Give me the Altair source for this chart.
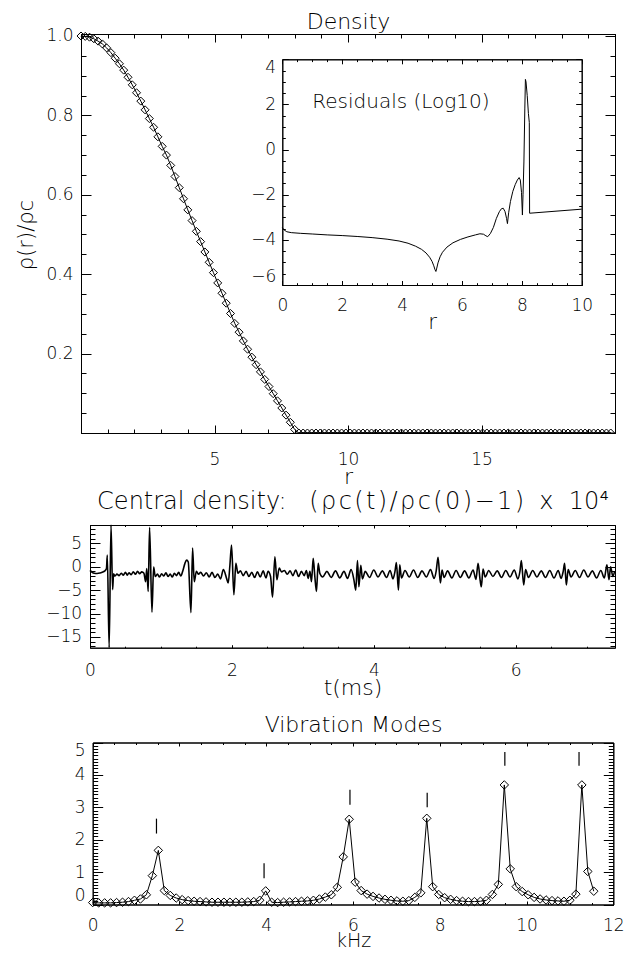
import altair as alt
import pandas as pd

# ---------------- data ----------------
# Top panel: density profile rho(r)/rho_c sampled on r
r_grid = [
    0.00, 0.16, 0.32, 0.48, 0.64, 0.80, 0.96, 1.12, 1.28, 1.44,
    1.60, 1.76, 1.92, 2.08, 2.24, 2.40, 2.56, 2.72, 2.88, 3.04,
    3.20, 3.36, 3.52, 3.68, 3.84, 4.00, 4.16, 4.32, 4.48, 4.64,
    4.80, 4.96, 5.12, 5.28, 5.44, 5.60, 5.76, 5.92, 6.08, 6.24,
    6.40, 6.56, 6.72, 6.88, 7.04, 7.20, 7.36, 7.52, 7.68, 7.84,
    8.00, 8.16, 8.32, 8.48, 8.64, 8.80, 8.96, 9.12, 9.28, 9.44,
    9.60, 9.76, 9.92, 10.08, 10.24, 10.40, 10.56, 10.72, 10.88, 11.04,
    11.20, 11.36, 11.52, 11.68, 11.84, 12.00, 12.16, 12.32, 12.48, 12.64,
    12.80, 12.96, 13.12, 13.28, 13.44, 13.60, 13.76, 13.92, 14.08, 14.24,
    14.40, 14.56, 14.72, 14.88, 15.04, 15.20, 15.36, 15.52, 15.68, 15.84,
    16.00, 16.16, 16.32, 16.48, 16.64, 16.80, 16.96, 17.12, 17.28, 17.44,
    17.60, 17.76, 17.92, 18.08, 18.24, 18.40, 18.56, 18.72, 18.88, 19.04,
    19.20, 19.36, 19.52, 19.68, 19.84,
]
rho = [
    1.000, 0.999, 0.997, 0.993, 0.987, 0.980, 0.970, 0.958, 0.944, 0.930,
    0.914, 0.896, 0.877, 0.857, 0.836, 0.814, 0.792, 0.770, 0.746, 0.722,
    0.700, 0.674, 0.646, 0.618, 0.590, 0.562, 0.535, 0.508, 0.482, 0.456,
    0.430, 0.404, 0.378, 0.352, 0.327, 0.301, 0.276, 0.254, 0.232, 0.211,
    0.191, 0.172, 0.154, 0.135, 0.117, 0.099, 0.081, 0.063, 0.045, 0.027,
    0.009, 0.0, 0.0, 0.0, 0.0, 0.0, 0.0, 0.0, 0.0, 0.0,
    0.0, 0.0, 0.0, 0.0, 0.0, 0.0, 0.0, 0.0, 0.0, 0.0,
    0.0, 0.0, 0.0, 0.0, 0.0, 0.0, 0.0, 0.0, 0.0, 0.0,
    0.0, 0.0, 0.0, 0.0, 0.0, 0.0, 0.0, 0.0, 0.0, 0.0,
    0.0, 0.0, 0.0, 0.0, 0.0, 0.0, 0.0, 0.0, 0.0, 0.0,
    0.0, 0.0, 0.0, 0.0, 0.0, 0.0, 0.0, 0.0, 0.0, 0.0,
    0.0, 0.0, 0.0, 0.0, 0.0, 0.0, 0.0, 0.0, 0.0, 0.0,
    0.0, 0.0, 0.0, 0.0, 0.0,
]

# Inset: log10 residuals vs r
res_r = [
    0.0, 0.05, 0.15, 0.3, 0.6, 1.0, 1.5, 2.0, 2.5, 3.0,
    3.5, 3.9, 4.2, 4.45, 4.65, 4.8, 4.92, 5.0, 5.06, 5.1,
    5.13, 5.16, 5.2, 5.27, 5.35, 5.5, 5.7, 5.95, 6.2, 6.45,
    6.6, 6.72, 6.8, 6.86, 6.95, 7.05, 7.15, 7.25, 7.32, 7.38,
    7.44, 7.49, 7.52, 7.56, 7.62, 7.7, 7.78, 7.85, 7.91, 7.95,
    7.99, 8.02, 8.04, 8.07, 8.1, 8.12, 8.14, 8.18, 8.22, 8.25,
    8.26, 10.0,
]
res_log = [
    -3.45, -3.55, -3.64, -3.68, -3.71, -3.74, -3.78, -3.81, -3.85, -3.90,
    -3.97, -4.05, -4.15, -4.28, -4.42, -4.58, -4.77, -4.95, -5.15, -5.32,
    -5.40, -5.25, -5.02, -4.75, -4.55, -4.32, -4.13, -3.98, -3.87, -3.78,
    -3.73, -3.75, -3.82, -3.86, -3.72, -3.45, -3.05, -2.75, -2.62, -2.60,
    -2.75, -3.05, -3.28, -2.80, -2.30, -1.85, -1.55, -1.35, -1.24, -1.35,
    -1.90, -2.90, -2.00, -0.55, 1.80, 3.11, 3.00, 2.40, 1.60, 1.20,
    -2.82, -2.64,
]
note_text = ["Residuals (Log10)"]
note_r = [1.0]
note_y = [1.83]

# Middle panel: central density perturbation (x 1e4) vs time (ms)
t_ms = [
    0.000, 0.030, 0.060, 0.100, 0.140, 0.180, 0.215, 0.232, 0.244, 0.270,
    0.296, 0.319, 0.332, 0.350, 0.380, 0.410, 0.440, 0.470, 0.500, 0.525,
    0.550, 0.580, 0.610, 0.640, 0.670, 0.700, 0.730, 0.760, 0.784, 0.800,
    0.820, 0.840, 0.873, 0.897, 0.920, 0.950, 0.980, 1.010, 1.040, 1.070,
    1.100, 1.130, 1.160, 1.190, 1.220, 1.250, 1.280, 1.310, 1.338, 1.362,
    1.385, 1.423, 1.446, 1.469, 1.500, 1.530, 1.560, 1.600, 1.640, 1.680,
    1.720, 1.760, 1.800, 1.840, 1.880, 1.925, 1.948, 1.972, 1.995, 2.028,
    2.056, 2.085, 2.120, 2.160, 2.200, 2.240, 2.280, 2.320, 2.360, 2.400,
    2.440, 2.480, 2.510, 2.545, 2.573, 2.606, 2.634, 2.667, 2.700, 2.740,
    2.780, 2.820, 2.860, 2.900, 2.940, 2.980, 3.020, 3.050, 3.075, 3.100,
    3.122, 3.146, 3.169, 3.192, 3.216, 3.239, 3.280, 3.340, 3.400, 3.460,
    3.520, 3.580, 3.630, 3.680, 3.720, 3.746, 3.770, 3.790, 3.817, 3.840,
    3.880, 3.940, 4.000, 4.060, 4.120, 4.180, 4.230, 4.270, 4.300, 4.319,
    4.347, 4.366, 4.390, 4.440, 4.500, 4.560, 4.620, 4.680, 4.740, 4.800,
    4.850, 4.880, 4.906, 4.939, 4.962, 4.990, 5.040, 5.100, 5.160, 5.220,
    5.280, 5.340, 5.400, 5.440, 5.470, 5.500, 5.516, 5.540, 5.570, 5.620,
    5.680, 5.740, 5.800, 5.860, 5.920, 5.980, 6.030, 6.060, 6.080, 6.113,
    6.140, 6.180, 6.240, 6.300, 6.360, 6.420, 6.480, 6.540, 6.600, 6.640,
    6.670, 6.690, 6.714, 6.740, 6.780, 6.840, 6.900, 6.960, 7.020, 7.080,
    7.140, 7.200, 7.250, 7.286, 7.315, 7.338, 7.370, 7.394,
]
dc = [
    -0.8, -1.2, -1.4, -1.45, -1.35, -1.15, -0.8, -0.4, 2.5, -18.5,
    9.5, -4.9, -1.5, -2.0, -1.6, -1.9, -1.4, -1.8, -1.2, -1.8,
    -1.3, -1.7, -1.1, -1.6, -1.0, -1.5, -1.1, -1.4, -3.2, -0.4,
    -5.3, 8.4, -9.7, -0.1, -2.1, -1.6, -2.2, -1.5, -2.0, -1.3,
    -2.1, -1.6, -2.2, -1.4, -1.9, -1.2, -2.0, -0.8, 0.7, 1.4,
    1.0, -9.8, 4.0, -3.2, -1.0, -1.6, -1.2, -2.0, -1.3, -2.2,
    -1.2, -2.3, -1.6, -2.6, -0.6, -2.5, -3.5, 0.3, 4.6, -6.0,
    0.7, -1.4, -0.9, -1.9, -1.0, -2.1, -1.2, -2.3, -1.1, -2.2,
    -0.9, -2.4, -1.0, -2.1, -6.5, 2.1, -2.8, -0.3, -1.1, -0.8,
    -1.6, -0.9, -1.9, -0.7, -2.1, -1.0, -1.9, -0.8, -2.5, -1.0,
    -3.2, 1.8, -2.1, -5.3, 0.7, -1.4, -2.2, -1.0, -2.3, -0.9,
    -2.4, -1.0, -2.5, -0.6, -2.8, -5.0, 1.3, -4.3, 0.3, -2.6,
    -1.0, -2.3, -0.7, -2.2, -0.9, -2.3, -0.8, -2.6, -0.9, 0.9,
    -5.0, 0.4, -2.4, -0.8, -2.2, -0.7, -2.3, -0.9, -2.2, -0.6,
    -2.5, -0.9, 2.0, -3.5, -0.7, -2.3, -0.9, -2.4, -0.8, -2.3,
    -0.9, -2.4, -0.7, -2.7, 0.7, -3.0, -4.3, -0.5, -2.2, -0.8,
    -2.1, -0.9, -2.3, -0.8, -2.2, -0.7, -2.6, -1.0, 1.3, -3.9,
    -0.6, -2.3, -0.8, -2.2, -0.9, -2.3, -0.8, -2.4, -0.8, -2.5,
    -1.0, 0.7, -3.9, -0.6, -2.2, -0.8, -2.3, -0.7, -2.2, -0.9,
    -2.4, -0.8, -2.4, 0.4, -2.8, 0.0, -2.1, -1.0,
]

# Bottom panel: spectrum amplitude vs frequency (kHz)
khz = [
    0.0, 0.1375, 0.275, 0.4125, 0.55, 0.6875, 0.825, 0.9625, 1.1, 1.2375,
    1.375, 1.5125, 1.65, 1.7875, 1.925, 2.0625, 2.2, 2.3375, 2.475, 2.6125,
    2.75, 2.8875, 3.025, 3.1625, 3.3, 3.4375, 3.575, 3.7125, 3.85, 3.9875,
    4.125, 4.2625, 4.4, 4.5375, 4.675, 4.8125, 4.95, 5.0875, 5.225, 5.3625,
    5.5, 5.6375, 5.775, 5.9125, 6.05, 6.1875, 6.325, 6.4625, 6.6, 6.7375,
    6.875, 7.0125, 7.15, 7.2875, 7.425, 7.5625, 7.7, 7.8375, 7.975, 8.1125,
    8.25, 8.3875, 8.525, 8.6625, 8.8, 8.9375, 9.075, 9.2125, 9.35, 9.4875,
    9.625, 9.7625, 9.9, 10.0375, 10.175, 10.3125, 10.45, 10.5875, 10.725, 10.8625,
    11.0, 11.1375, 11.275, 11.4125, 11.55,
]
amp = [
    0.06, 0.05, 0.05, 0.05, 0.06, 0.07, 0.09, 0.13, 0.17, 0.30,
    0.89, 1.67, 0.43, 0.28, 0.20, 0.15, 0.12, 0.10, 0.09, 0.08,
    0.07, 0.07, 0.07, 0.07, 0.07, 0.07, 0.08, 0.09, 0.13, 0.42,
    0.07, 0.06, 0.07, 0.08, 0.09, 0.10, 0.11, 0.13, 0.17, 0.23,
    0.30, 0.53, 1.47, 2.63, 0.69, 0.43, 0.32, 0.25, 0.20, 0.16,
    0.13, 0.11, 0.10, 0.12, 0.22, 0.36, 2.66, 0.55, 0.31, 0.21,
    0.16, 0.12, 0.10, 0.09, 0.09, 0.10, 0.13, 0.31, 0.62, 3.69,
    1.10, 0.55, 0.40, 0.30, 0.22, 0.17, 0.14, 0.12, 0.11, 0.10,
    0.13, 0.32, 3.69, 1.02, 0.41,
]
mode_khz = [1.47, 3.95, 5.93, 7.71, 9.50, 11.21]
mode_lo = [2.19, 0.81, 3.08, 3.00, 4.28, 4.28]
mode_hi = [2.65, 1.27, 3.54, 3.45, 4.71, 4.71]

# ---------------- tick values ----------------
top_x_major = [5, 10, 15]
top_y_major = [0.2, 0.4, 0.6, 0.8, 1.0]
top_x_minor = [float(i) for i in range(0, 21)]
top_y_minor = [round(i * 0.05, 2) for i in range(0, 21)]
in_x_major = [0, 2, 4, 6, 8, 10]
in_y_major = [-6, -4, -2, 0, 2, 4]
in_x_minor = [round(i * 0.5, 1) for i in range(0, 21)]
in_y_minor = [round(-6 + i * 0.5, 1) for i in range(0, 21)]
mid_x_major = [0, 2, 4, 6]
mid_y_major = [-15, -10, -5, 0, 5]
mid_x_minor = [round(i * 0.5, 1) for i in range(0, 15)]
mid_y_minor = [float(i) for i in range(-17, 9)]
bot_x_major = [0, 2, 4, 6, 8, 10, 12]
bot_y_major = [0, 1, 2, 3, 4, 5]
bot_x_minor = [round(i * 0.5, 1) for i in range(0, 25)]
bot_y_minor = [round(i * 0.1, 1) for i in range(0, 51)]

# ---------------- layout / style ----------------
W, H = 627, 944
FONT = "DejaVu Sans"
FW = 200
LSIZE = 17
TSIZE = 22
HALF_DIAMOND = "M-1,0L0,-1L1,0Z"
HS = "\u200a"   # hair space
NB = "\u00a0"   # non-breaking space
MID_TITLE = ("Central density:" + NB * 3 + "(" + HS + "ρ" + HS + "c" + HS + "(" + HS + "t"
             + HS + ")" + HS + "/" + HS + "ρ" + HS + "c" + HS + "(" + HS + "0" + HS + ")"
             + HS + "−" + HS + "1" + HS + ")" + NB * 2 + "x" + NB * 2 + "10⁴")


def axis(orient, offset, values, tick, labels=False, pad=0.0, fmt=None,
         flush=False, title=None, tx=None, ty=None, tsize=TSIZE):
    kw = dict(orient=orient, offset=offset, values=values, grid=False,
              ticks=True, tickSize={"expr": str(-tick)}, tickColor="black",
              tickWidth=1, domain=True, domainColor="black", domainWidth=1,
              labels=labels, labelOverlap=False, labelFlush=flush,
              labelBound=False, labelFont=FONT, labelFontSize=LSIZE,
              labelFontWeight=FW, labelColor="black",
              labelPadding=pad + tick)
    if fmt is not None:
        kw["format"] = fmt
    if title is not None:
        kw.update(title=title, titleFont=FONT, titleFontSize=tsize,
                  titleFontWeight=FW, titleColor="black",
                  titleBaseline="alphabetic")
        if tx is not None:
            kw["titleX"] = tx
        if ty is not None:
            kw["titleY"] = ty
    else:
        kw["title"] = None
    return alt.Axis(**kw)


def sc(domain, rng, clamp=False):
    if clamp:
        return alt.Scale(domain=domain, range=rng, nice=False, zero=False, clamp=True)
    return alt.Scale(domain=domain, range=rng, nice=False, zero=False)


# ---------- top panel: density ----------
TX0, TX1, TYB, TYT = 73, 607, 425, 26
xs_top = sc([0, 20], [TX0, TX1])
ys_top = sc([0, 1.005], [TYB, TYT])
dens = alt.Chart(pd.DataFrame({"r": r_grid, "rho": rho}))


def XT(ax):
    return alt.X("r:Q", scale=xs_top, axis=ax)


def YT(ax):
    return alt.Y("rho:Q", scale=ys_top, axis=ax)


top_line = dens.mark_line(color="black", strokeWidth=1).encode(
    x=XT(axis("bottom", TYB - H, top_x_major, 8, labels=True, pad=18,
              title="r", ty=50)),
    y=YT(axis("left", -TX0, top_y_major, 10, labels=True, pad=8, fmt=".1f",
              title="ρ(r)/ρc", tx=-49, ty=226.5, tsize=21)),
)
top_pts = dens.transform_filter("datum.rho > 0").mark_point(
    shape="diamond", filled=False, color="black", size=64, strokeWidth=1, opacity=1
).encode(
    x=XT(axis("top", -TYT, top_x_major, 8, title="Density", ty=-6)),
    y=YT(axis("right", TX1 - W, top_y_major, 10)),
)
top_pts0 = dens.transform_filter("datum.rho <= 0").mark_point(
    shape=HALF_DIAMOND, filled=False, color="black", size=64, strokeWidth=1, opacity=1
).encode(
    x=XT(axis("bottom", TYB - H, top_x_minor, 4)),
    y=YT(axis("left", -TX0, top_y_minor, 5)),
)
top_ghost = dens.mark_line(opacity=0).encode(
    x=XT(axis("top", -TYT, top_x_minor, 4)),
    y=YT(axis("right", TX1 - W, top_y_minor, 5)),
)
top = alt.layer(top_line, top_pts, top_pts0, top_ghost).resolve_axis(
    x="independent", y="independent")

# ---------- inset: residuals ----------
IX0, IX1, IYB, IYT = 274.3, 573.7, 277, 51.3
xs_in = sc([0, 10], [IX0, IX1])
ys_in = sc([-6, 4], [IYB, IYT])
resid = alt.Chart(pd.DataFrame({"ri": res_r, "res": res_log}))


def XI(ax):
    return alt.X("ri:Q", scale=xs_in, axis=ax)


def YI(ax):
    return alt.Y("res:Q", scale=ys_in, axis=ax)


in_line = resid.mark_line(color="black", strokeWidth=1).encode(
    x=XI(axis("bottom", IYB - H, in_x_major, 4.5, labels=True, pad=12,
              title="r", ty=43, tsize=21)),
    y=YI(axis("left", -IX0, in_y_major, 6, labels=True, pad=6.6, flush=True)),
)
in_g1 = resid.mark_line(opacity=0).encode(
    x=XI(axis("top", -IYT, in_x_major, 4.5)),
    y=YI(axis("right", IX1 - W, in_y_major, 6)),
)
in_g2 = resid.mark_line(opacity=0).encode(
    x=XI(axis("bottom", IYB - H, in_x_minor, 2.3)),
    y=YI(axis("left", -IX0, in_y_minor, 3)),
)
in_g3 = resid.mark_line(opacity=0).encode(
    x=XI(axis("top", -IYT, in_x_minor, 2.3)),
    y=YI(axis("right", IX1 - W, in_y_minor, 3)),
)
in_note = alt.Chart(pd.DataFrame({"nr": note_r, "ny": note_y, "txt": note_text})).mark_text(
    align="left", baseline="alphabetic", font=FONT, fontSize=20, fontWeight=FW, color="black"
).encode(
    x=alt.X("nr:Q", scale=xs_in, axis=None),
    y=alt.Y("ny:Q", scale=ys_in, axis=None),
    text="txt:N",
)
inset = alt.layer(in_line, in_g1, in_g2, in_g3, in_note).resolve_axis(
    x="independent", y="independent")

# ---------- middle panel: central density ----------
MX0, MX1, MYB, MYT = 82, 607, 639.7, 517
xs_mid = sc([0, 7.4], [MX0, MX1])
ys_mid = sc([-17.3, 8.9], [MYB, MYT], clamp=True)
cen = alt.Chart(pd.DataFrame({"t": t_ms, "dc": dc}))


def XM(ax):
    return alt.X("t:Q", scale=xs_mid, axis=ax)


def YM(ax):
    return alt.Y("dc:Q", scale=ys_mid, axis=ax)


mid_line = cen.mark_line(color="black", strokeWidth=1.6, interpolate="monotone").encode(
    x=XM(axis("bottom", MYB - H, mid_x_major, 3, labels=True, pad=14.5,
              title="t(ms)", ty=47)),
    y=YM(axis("left", -MX0, mid_y_major, 10, labels=True, pad=8.3)),
)
mid_g1 = cen.mark_line(opacity=0).encode(
    x=XM(axis("top", -MYT, mid_x_major, 3, title=MID_TITLE, ty=-16.7, tsize=24)),
    y=YM(axis("right", MX1 - W, mid_y_major, 10)),
)
mid_g2 = cen.mark_line(opacity=0).encode(
    x=XM(axis("bottom", MYB - H, mid_x_minor, 1.5)),
    y=YM(axis("left", -MX0, mid_y_minor, 5)),
)
mid_g3 = cen.mark_line(opacity=0).encode(
    x=XM(axis("top", -MYT, mid_x_minor, 1.5)),
    y=YM(axis("right", MX1 - W, mid_y_minor, 5)),
)
mid = alt.layer(mid_line, mid_g1, mid_g2, mid_g3).resolve_axis(
    x="independent", y="independent")

# ---------- bottom panel: vibration modes ----------
BX0, BX1, BYB, BYT = 84.7, 605.3, 896.5, 734.5
xs_bot = sc([0, 12], [BX0, BX1])
ys_bot = sc([0, 5], [BYB, BYT])
spec = alt.Chart(pd.DataFrame({"f": khz, "a": amp}))


def XB(ax):
    return alt.X("f:Q", scale=xs_bot, axis=ax)


def YB(ax):
    return alt.Y("a:Q", scale=ys_bot, axis=ax)


bot_line = spec.mark_line(color="black", strokeWidth=1).encode(
    x=XB(axis("bottom", BYB - H, bot_x_major, 3.5, labels=True, pad=13,
              title="kHz", ty=41.5, tsize=19)),
    y=YB(axis("left", -BX0, bot_y_major, 10, labels=True, pad=7.7, flush=True)),
)
bot_pts = spec.mark_point(
    shape="diamond", filled=False, color="black", size=72, strokeWidth=1, opacity=1
).encode(
    x=XB(axis("top", -BYT, bot_x_major, 3.5, title="Vibration Modes", ty=-11.5)),
    y=YB(axis("right", BX1 - W, bot_y_major, 10)),
)
bot_g2 = spec.mark_line(opacity=0).encode(
    x=XB(axis("bottom", BYB - H, bot_x_minor, 2)),
    y=YB(axis("left", -BX0, bot_y_minor, 5)),
)
bot_g3 = spec.mark_line(opacity=0).encode(
    x=XB(axis("top", -BYT, bot_x_minor, 2)),
    y=YB(axis("right", BX1 - W, bot_y_minor, 5)),
)
bot_modes = alt.Chart(pd.DataFrame({"mf": mode_khz, "lo": mode_lo, "hi": mode_hi})).mark_rule(
    color="black", strokeWidth=1.2
).encode(
    x=alt.X("mf:Q", scale=xs_bot, axis=None),
    y=alt.Y("lo:Q", scale=ys_bot, axis=None),
    y2="hi:Q",
)
bot = alt.layer(bot_line, bot_pts, bot_g2, bot_g3, bot_modes).resolve_axis(
    x="independent", y="independent")

chart = alt.layer(top, inset, mid, bot).resolve_scale(
    x="independent", y="independent"
).properties(
    width=W, height=H, padding=0,
    autosize=alt.AutoSizeParams(type="none"),
).configure_view(strokeWidth=0)

chart.save("out.html", embed_options={"renderer": "svg", "actions": False})
